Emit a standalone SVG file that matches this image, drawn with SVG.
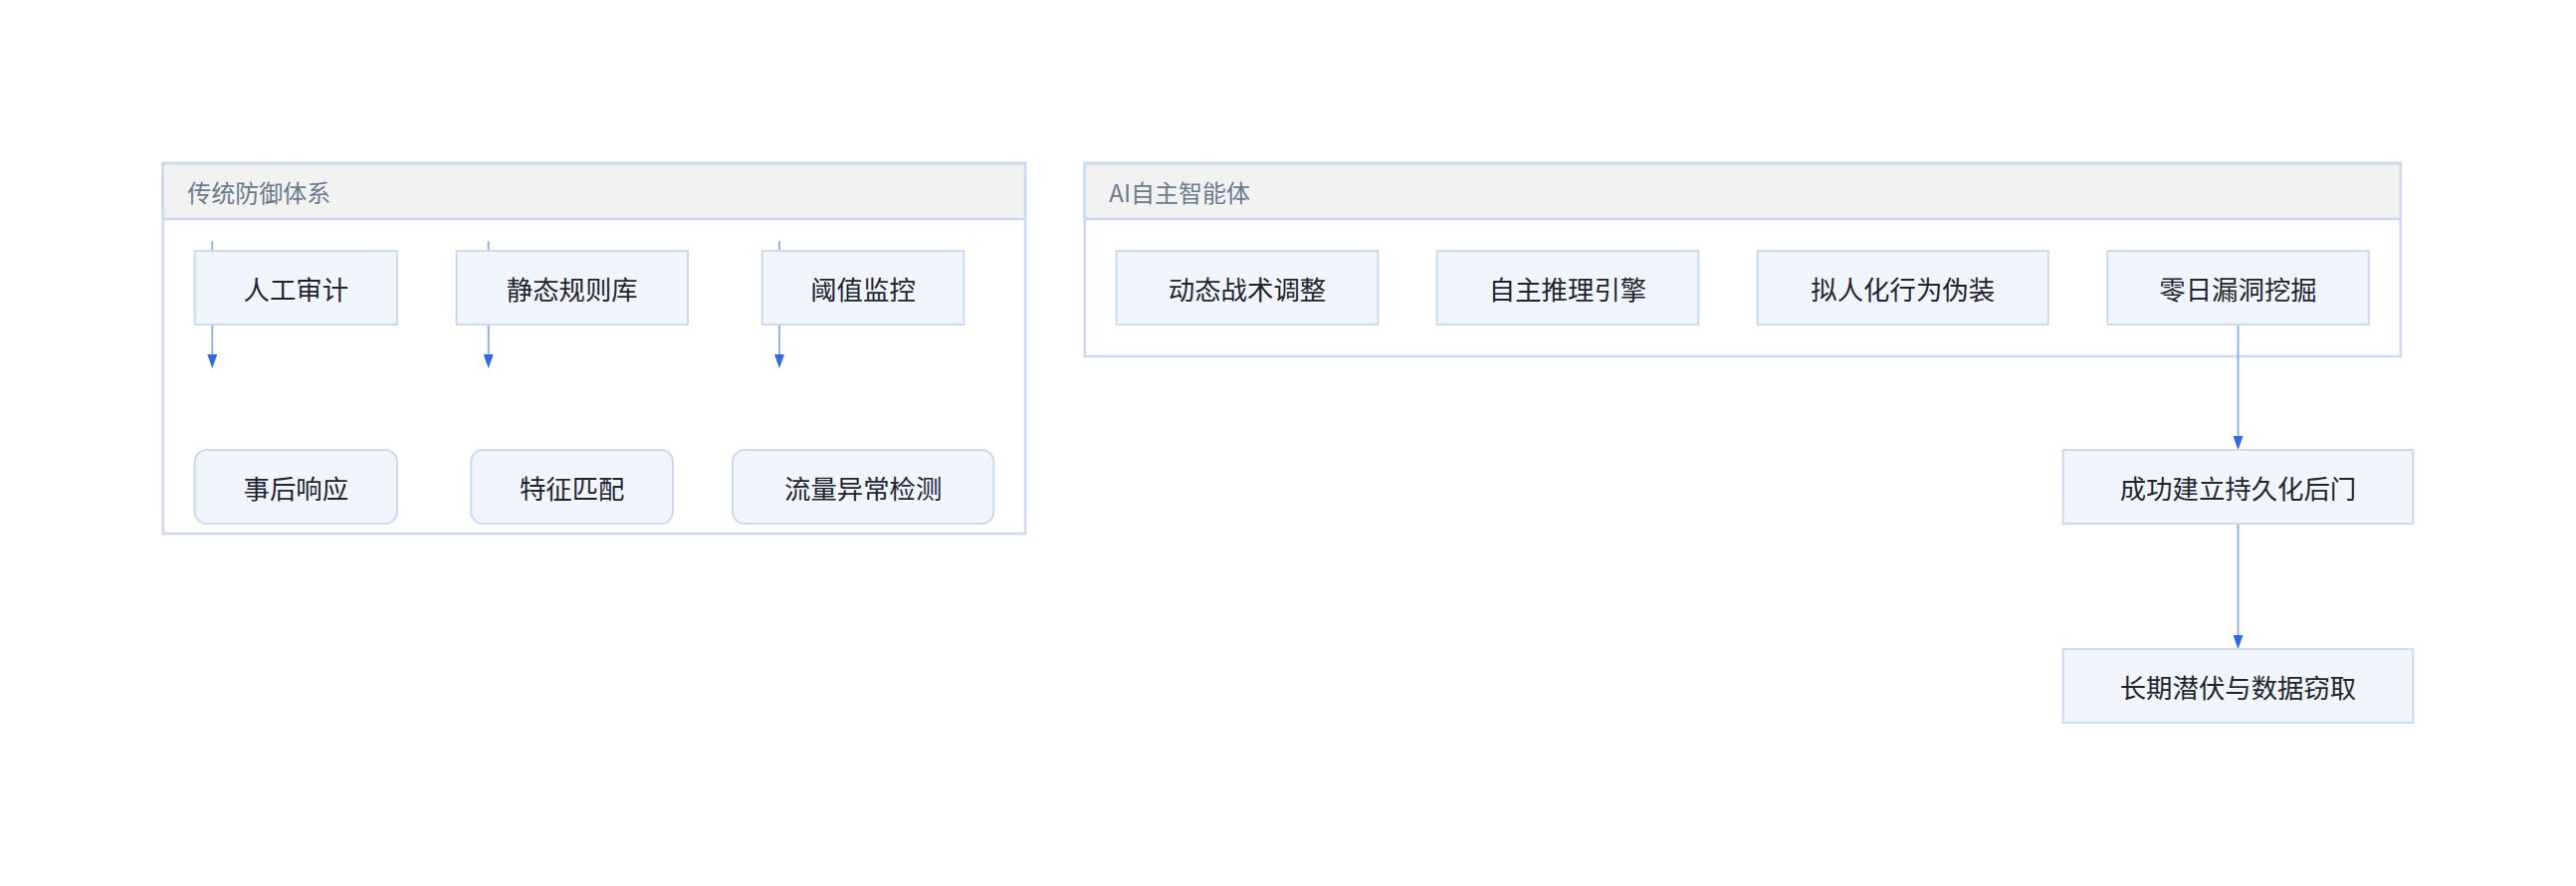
<svg xmlns="http://www.w3.org/2000/svg" width="2588" height="890" viewBox="0 0 2588 890">
<defs>
<style>
.cluster{fill:#ffffff;stroke:#cbdaf2;stroke-width:2.5}
.chead{fill:#f2f2f2;stroke:#cbdaf2;stroke-width:2.5}
.ctitle{font-family:"Noto Sans CJK SC","Noto Sans",sans-serif;font-size:24px;fill:#6b7b8f;dominant-baseline:central}
.node rect{fill:#f0f5fe;stroke:#cbdaf2;stroke-width:2}
.node text{font-family:"Noto Sans CJK SC","Noto Sans",sans-serif;font-size:26.4px;fill:#1f2430;text-anchor:middle;dominant-baseline:central}
.edge{stroke:#8fb4ef;stroke-width:2;fill:none}
</style>
<marker id="arrow" viewBox="0 0 14 10" refX="2" refY="5" markerWidth="14" markerHeight="10" markerUnits="userSpaceOnUse" orient="auto">
<path d="M0,0 L14,5 L0,10 z" fill="#2f6ade"/>
</marker>
</defs>
<rect width="2588" height="890" fill="#ffffff"/>

<g id="cluster-traditional">
<rect class="cluster" x="163.7" y="164" width="866.3" height="372"/>
<rect class="chead" x="163.7" y="164" width="866.3" height="56"/>
<text class="ctitle" x="188.3" y="192">传统防御体系</text>
</g>
<g id="cluster-ai">
<rect class="cluster" x="1089.7" y="164" width="1322" height="194"/>
<rect class="chead" x="1089.7" y="164" width="1322" height="56"/>
<text class="ctitle" x="1114.3" y="192">AI自主智能体</text>
</g>

<g id="edges">
<line class="edge" x1="213.3" y1="242.3" x2="213.3" y2="252"/>
<line class="edge" x1="490.7" y1="242.3" x2="490.7" y2="252"/>
<line class="edge" x1="783" y1="242.3" x2="783" y2="252"/>
<line class="edge" x1="213.3" y1="326" x2="213.3" y2="358" marker-end="url(#arrow)"/>
<line class="edge" x1="490.7" y1="326" x2="490.7" y2="358" marker-end="url(#arrow)"/>
<line class="edge" x1="783" y1="326" x2="783" y2="358" marker-end="url(#arrow)"/>
<line class="edge" x1="2248.5" y1="326" x2="2248.5" y2="440" marker-end="url(#arrow)"/>
<line class="edge" x1="2248.5" y1="526" x2="2248.5" y2="640" marker-end="url(#arrow)"/>
</g>

<g id="node-manual-audit" class="node">
<rect x="195.7" y="252" width="203.3" height="74"/>
<text x="297.3" y="289">人工审计</text>
</g>
<g id="node-static-rules" class="node">
<rect x="458.7" y="252" width="232.3" height="74"/>
<text x="574.8" y="289">静态规则库</text>
</g>
<g id="node-threshold" class="node">
<rect x="765.7" y="252" width="202.6" height="74"/>
<text x="867" y="289">阈值监控</text>
</g>
<g id="node-post-response" class="node">
<rect x="195.7" y="452" width="203.3" height="74" rx="12" ry="12"/>
<text x="297.3" y="489">事后响应</text>
</g>
<g id="node-signature" class="node">
<rect x="473.3" y="452" width="202.7" height="74" rx="12" ry="12"/>
<text x="574.7" y="489">特征匹配</text>
</g>
<g id="node-traffic" class="node">
<rect x="736" y="452" width="262.3" height="74" rx="12" ry="12"/>
<text x="867.2" y="489">流量异常检测</text>
</g>

<g id="node-dynamic-tactics" class="node">
<rect x="1121.7" y="252" width="262.6" height="74"/>
<text x="1253" y="289">动态战术调整</text>
</g>
<g id="node-reasoning" class="node">
<rect x="1443.7" y="252" width="262.6" height="74"/>
<text x="1575" y="289">自主推理引擎</text>
</g>
<g id="node-mimicry" class="node">
<rect x="1765.7" y="252" width="292" height="74"/>
<text x="1911.7" y="289">拟人化行为伪装</text>
</g>
<g id="node-zero-day" class="node">
<rect x="2117.3" y="252" width="262.4" height="74"/>
<text x="2248.5" y="289">零日漏洞挖掘</text>
</g>
<g id="node-backdoor" class="node">
<rect x="2072.7" y="452" width="351.6" height="74"/>
<text x="2248.5" y="489">成功建立持久化后门</text>
</g>
<g id="node-exfil" class="node">
<rect x="2072.7" y="652" width="351.6" height="74"/>
<text x="2248.5" y="689">长期潜伏与数据窃取</text>
</g>
</svg>
